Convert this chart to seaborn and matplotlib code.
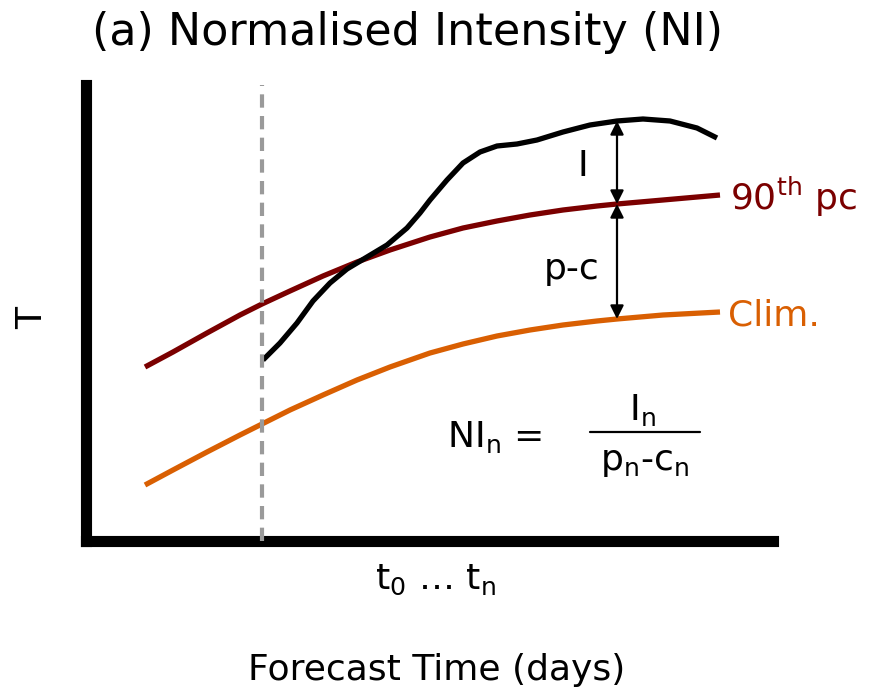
import numpy as np
import pandas as pd
import matplotlib
matplotlib.use("Agg")
import matplotlib.pyplot as plt
import seaborn as sns

# ---- data (schematic units) ----
pc90_x = [59, 87, 121, 154, 176, 204, 237, 271, 304, 344, 377, 411, 444, 477, 511, 531, 577, 634]
pc90_y = [174, 189, 208, 226, 237, 250, 265, 279, 291, 304, 313, 320, 326, 331, 335, 337, 341, 346]

clim_x = [59, 87, 121, 154, 176, 204, 237, 271, 304, 344, 377, 411, 444, 477, 511, 531, 577, 634]
clim_y = [56, 71, 89, 106, 117, 131, 146, 161, 174, 188, 197, 205, 211, 216, 220, 222, 226, 229]

fc_x = [177, 194, 211, 227, 244, 261, 281, 301, 321, 334, 344, 361, 377, 394, 411, 431,
        451, 477, 504, 531, 557, 584, 611, 631]
fc_y = [181, 198, 218, 240, 258, 272, 284, 296, 313, 328, 341, 361, 378, 389, 395, 397,
        401, 409, 416, 420, 422, 420, 413, 403]

t0 = 176          # initialisation time (dashed line)
arrow_x = 531     # where I and p-c are measured

title = "(a) Normalised Intensity (NI)"
xlabel = "Forecast Time (days)"
ylabel = "T"
xtick_text = "t$_0$ \u2026 t$_\\mathrm{n}$"

DARKRED = "#7b0000"
ORANGE = "#d95f02"

sns.set_style("white")
plt.rcParams["font.family"] = ["DejaVu Sans"]
plt.rcParams["mathtext.default"] = "regular"
plt.rcParams["text.color"] = "black"

W, H = 874, 694
fig = plt.figure(figsize=(W / 100, H / 100), dpi=100)
ax = fig.add_axes([86 / W, 1 - 541 / H, (773 - 86) / W, (541 - 85) / H])

df_pc = pd.DataFrame({"x": pc90_x, "y": pc90_y})
df_cl = pd.DataFrame({"x": clim_x, "y": clim_y})
df_fc = pd.DataFrame({"x": fc_x, "y": fc_y})

kw = dict(lw=3.8, sort=False, solid_capstyle="butt", solid_joinstyle="round")
sns.lineplot(data=df_pc, x="x", y="y", ax=ax, color=DARKRED, **kw)
sns.lineplot(data=df_cl, x="x", y="y", ax=ax, color=ORANGE, **kw)
sns.lineplot(data=df_fc, x="x", y="y", ax=ax, color="black", **kw)

ax.axvline(t0, color="#9a9a9a", lw=3, dashes=(3.2, 2.0), zorder=5)

ax.set_xlim(0, 687)
ax.set_ylim(0, 456)
ax.set_xticks([])
ax.set_yticks([])
ax.set_xlabel("")
ax.set_ylabel("")
for s in ["top", "right"]:
    ax.spines[s].set_visible(False)
for s in ["left", "bottom"]:
    ax.spines[s].set_linewidth(8)
    ax.spines[s].set_color("black")
    ax.spines[s].set_capstyle("projecting")

# arrows
y_fc = np.interp(arrow_x, fc_x, fc_y)
y_pc = np.interp(arrow_x, pc90_x, pc90_y)
y_cl = np.interp(arrow_x, clim_x, clim_y)
ap = dict(arrowstyle="<|-|>", color="black", lw=1.6, mutation_scale=20,
          shrinkA=0, shrinkB=0)
ax.annotate("", xy=(arrow_x, y_fc), xytext=(arrow_x, y_pc), arrowprops=ap)
ax.annotate("", xy=(arrow_x, y_pc), xytext=(arrow_x, y_cl), arrowprops=ap)

fs = 26
ax.text(arrow_x - 34, (y_fc + y_pc) / 2 - 4, "I", fontsize=fs, ha="center", va="center")
ax.text(arrow_x - 45, (y_pc + y_cl) / 2 - 8, "p-c", fontsize=fs, ha="center", va="center")
ax.text(644, pc90_y[-1] - 2, "90$^{th}$ pc", fontsize=fs, color=DARKRED, ha="left", va="center", clip_on=False)
ax.text(642, clim_y[-1] - 4, "Clim.", fontsize=fs, color=ORANGE, ha="left", va="center", clip_on=False)

# formula
ax.text(361, 104, "NI$_n$ =", fontsize=fs, ha="left", va="center")
ax.annotate("", xy=(504, 109), xytext=(614, 109),
            arrowprops=dict(arrowstyle="-", color="black", lw=1.6, shrinkA=0, shrinkB=0))
ax.text(556, 131, "I$_n$", fontsize=fs, ha="center", va="center")
ax.text(559, 79, "p$_n$-c$_n$", fontsize=fs, ha="center", va="center")

# outer labels
fig.text(408 / W, 1 - 33 / H, title, fontsize=32, ha="center", va="center")
fig.text(437 / W, 1 - 670 / H, xlabel, fontsize=fs, ha="center", va="center")
fig.text(435 / W, 1 - 580 / H, xtick_text, fontsize=fs, ha="center", va="center")
fig.text(32 / W, 1 - 318 / H, ylabel, fontsize=fs, ha="center", va="center", rotation=90)

fig.savefig("out.png", dpi=100, facecolor="white")
